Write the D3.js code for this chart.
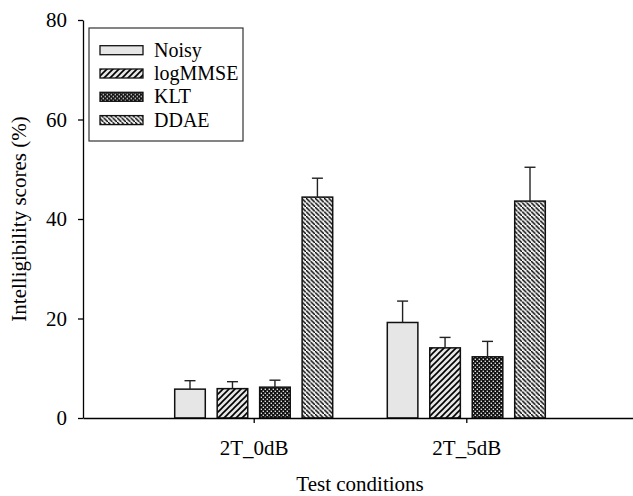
<!DOCTYPE html>
<html><head><meta charset="utf-8">
<script src="https://cdn.jsdelivr.net/npm/d3@7"></script>
<style>
body{margin:0;background:#fff;}
svg{display:block;}
text{font-family:"Liberation Serif","Times New Roman",serif;fill:#000;}
</style></head>
<body>
<svg id="chart" width="633" height="496"></svg>
<script>
const categories = ["2T_0dB", "2T_5dB"];
const seriesNames = ["Noisy", "logMMSE", "KLT", "DDAE"];
const noisy   = [5.8, 19.2];
const logmmse = [5.9, 14.1];
const klt     = [6.2, 12.3];
const ddae    = [44.4, 43.6];
const noisyErr   = [1.7, 4.3];
const logmmseErr = [1.4, 2.1];
const kltErr     = [1.4, 3.1];
const ddaeErr    = [3.8, 6.8];
const yTicks = [0, 20, 40, 60, 80];

(function () {
const values = [noisy, logmmse, klt, ddae];
const errs = [noisyErr, logmmseErr, kltErr, ddaeErr];
const data = [];
categories.forEach((c, ci) => seriesNames.forEach((s, si) => {
  data.push({cat: c, series: s, si, value: values[si][ci], err: errs[si][ci]});
}));

const svg = d3.select("#chart");
const mLeft = 83, mRight = 637, mTop = 20, mBottom = 418;

const defs = svg.append("defs");
const p1 = defs.append("pattern").attr("id", "pat1").attr("patternUnits", "userSpaceOnUse")
  .attr("width", 6).attr("height", 6);
p1.append("rect").attr("width", 6).attr("height", 6).attr("fill", "#e6e6e6");
p1.append("path").attr("d", "M-1,1 l2,-2 M0,6 l6,-6 M5,7 l2,-2")
  .attr("stroke", "#000").attr("stroke-width", 1.6);
const p2 = defs.append("pattern").attr("id", "pat2").attr("patternUnits", "userSpaceOnUse")
  .attr("width", 4).attr("height", 4);
p2.append("rect").attr("width", 4).attr("height", 4).attr("fill", "#111");
p2.append("rect").attr("x", 0.6).attr("y", 0.6).attr("width", 1.4).attr("height", 1.4).attr("fill", "#ddd");
p2.append("rect").attr("x", 2.6).attr("y", 2.6).attr("width", 1.4).attr("height", 1.4).attr("fill", "#ddd");
const p3 = defs.append("pattern").attr("id", "pat3").attr("patternUnits", "userSpaceOnUse")
  .attr("width", 4.5).attr("height", 4.5);
p3.append("rect").attr("width", 4.5).attr("height", 4.5).attr("fill", "#f0f0f0");
p3.append("path").attr("d", "M-1,-1 l2,2 M0,0 l4.5,4.5 M3.5,3.5 l2,2")
  .attr("stroke", "#000").attr("stroke-width", 1.4);

const fills = ["#e6e6e6", "url(#pat1)", "url(#pat2)", "url(#pat3)"];

const x = d3.scalePoint().domain(categories).range([mLeft, mRight]).padding(0.803);
const xs = d3.scaleBand().domain(seriesNames).range([-79, 79]).paddingInner(0.28).paddingOuter(0);
const y = d3.scaleLinear().domain([0, 80]).range([mBottom, mTop]);

svg.append("g").selectAll("rect").data(data).join("rect")
  .attr("x", d => x(d.cat) + xs(d.series))
  .attr("y", d => y(d.value))
  .attr("width", xs.bandwidth())
  .attr("height", d => y(0) - y(d.value))
  .attr("fill", d => fills[d.si])
  .attr("stroke", "#111").attr("stroke-width", 1.5);

const eb = svg.append("g").attr("stroke", "#222").attr("stroke-width", 1.4);
eb.selectAll("line.v").data(data).join("line").attr("class", "v")
  .attr("x1", d => x(d.cat) + xs(d.series) + xs.bandwidth() / 2)
  .attr("x2", d => x(d.cat) + xs(d.series) + xs.bandwidth() / 2)
  .attr("y1", d => y(d.value)).attr("y2", d => y(d.value + d.err));
eb.selectAll("line.c").data(data).join("line").attr("class", "c")
  .attr("x1", d => x(d.cat) + xs(d.series) + xs.bandwidth() / 2 - 5.5)
  .attr("x2", d => x(d.cat) + xs(d.series) + xs.bandwidth() / 2 + 5.5)
  .attr("y1", d => y(d.value + d.err)).attr("y2", d => y(d.value + d.err));

const yAxis = svg.append("g").attr("transform", `translate(${mLeft},0)`)
  .call(d3.axisLeft(y).tickValues(yTicks).tickSize(5).tickSizeOuter(0).tickPadding(11));
yAxis.select(".domain").attr("stroke", "#000").attr("stroke-width", 1.3);
yAxis.selectAll(".tick line").attr("stroke", "#000").attr("stroke-width", 1.3);
yAxis.selectAll("text").attr("font-size", 21).attr("font-family", "Liberation Serif");

const xAxis = svg.append("g").attr("transform", `translate(0,${mBottom})`)
  .call(d3.axisBottom(x).tickSize(5).tickSizeOuter(0).tickPadding(17));
xAxis.select(".domain").attr("stroke", "#000").attr("stroke-width", 1.3);
xAxis.selectAll(".tick line").attr("stroke", "#000").attr("stroke-width", 1.3);
xAxis.selectAll("text").attr("font-size", 21).attr("font-family", "Liberation Serif");

svg.append("text").attr("x", 360).attr("y", 491).attr("text-anchor", "middle")
  .attr("font-size", 21).text("Test conditions");
svg.append("text").attr("transform", "translate(26,219) rotate(-90)").attr("text-anchor", "middle")
  .attr("font-size", 21).text("Intelligibility scores (%)");

const lg = svg.append("g");
lg.append("rect").attr("x", 89).attr("y", 28).attr("width", 154).attr("height", 113)
  .attr("fill", "#fff").attr("stroke", "#333").attr("stroke-width", 1.2);
const rows = lg.selectAll("g.row").data(seriesNames).join("g").attr("class", "row")
  .attr("transform", (d, i) => `translate(0,${56.7 + i * 23.3})`);
rows.append("rect").attr("x", 100).attr("y", -11).attr("width", 43).attr("height", 9)
  .attr("fill", (d, i) => fills[i]).attr("stroke", "#111").attr("stroke-width", 1.3);
rows.append("text").attr("x", 154).attr("y", 0).attr("font-size", 20).text(d => d);
})();
</script>
</body></html>
